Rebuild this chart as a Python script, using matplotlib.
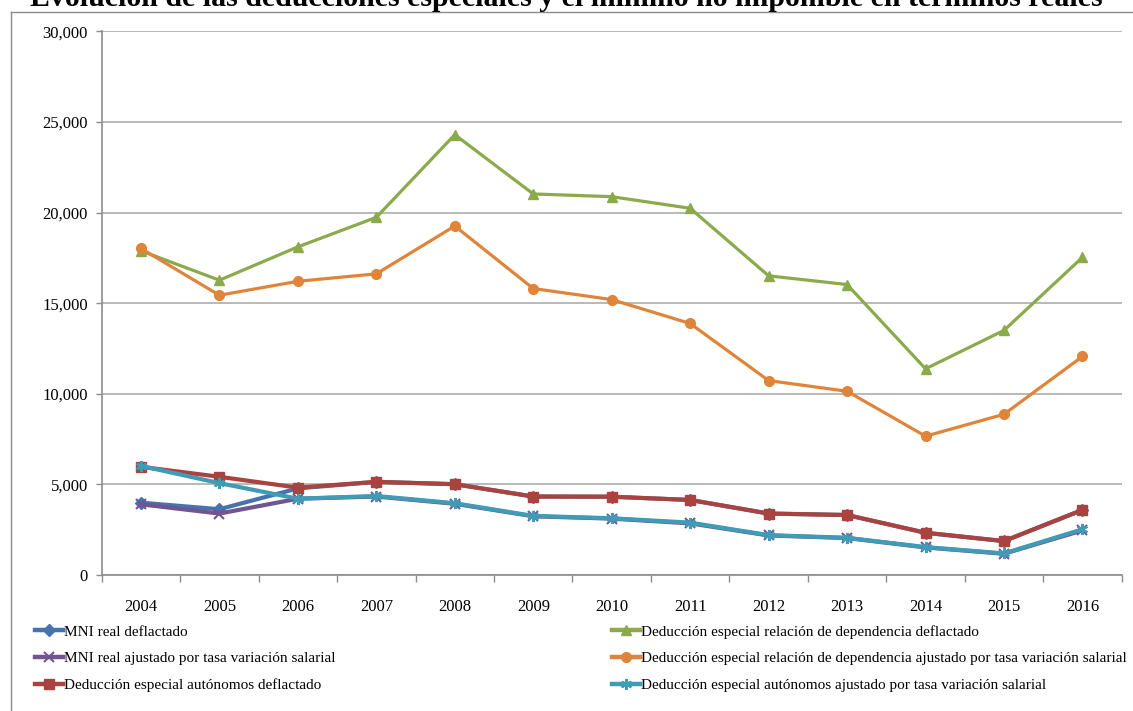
import matplotlib
matplotlib.use("Agg")
import matplotlib.pyplot as plt
from matplotlib.lines import Line2D

years = ["2004", "2005", "2006", "2007", "2008", "2009", "2010",
         "2011", "2012", "2013", "2014", "2015", "2016"]

mni_deflactado = [3990, 3630, 4780, 5140, 5010, 4330, 4320, 4140, 3390, 3310, 2330, 1870, 3590]
ded_dep_deflactado = [17890, 16270, 18110, 19740, 24300, 21030, 20880, 20240, 16510, 16030, 11380, 13500, 17530]
mni_ajustado = [3900, 3390, 4210, 4330, 3930, 3240, 3110, 2850, 2180, 2040, 1520, 1170, 2460]
ded_dep_ajustado = [18020, 15440, 16210, 16620, 19260, 15810, 15200, 13880, 10730, 10140, 7660, 8870, 12060]
ded_aut_deflactado = [5970, 5420, 4820, 5140, 5010, 4330, 4320, 4140, 3390, 3310, 2330, 1870, 3590]
ded_aut_ajustado = [6020, 5070, 4210, 4360, 3960, 3260, 3130, 2890, 2200, 2050, 1540, 1190, 2520]

labels = ["MNI real deflactado",
          "Deducción especial relación de dependencia deflactado",
          "MNI real ajustado por tasa variación salarial",
          "Deducción especial relación de dependencia ajustado por tasa variación salarial",
          "Deducción especial autónomos deflactado",
          "Deducción especial autónomos ajustado por tasa variación salarial"]

title = "Evolución de las deducciones especiales y el mínimo no imponible en términos reales"

plt.rcParams['font.family'] = ['Liberation Serif', 'DejaVu Serif']

fig = plt.figure(figsize=(11.33, 7.11), dpi=100)
ax = fig.add_axes([0.0898, 0.1913, 0.9002, 0.7645])

x = list(range(len(years)))
series = [
    (mni_deflactado, '#4673B0', 'D', 6, 3.0, 1.0),
    (ded_dep_deflactado, '#8AAA4B', '^', 7.5, 2.3, 1.0),
    (mni_ajustado, '#71558F', 'x', 7, 3.0, 1.5),
    (ded_dep_ajustado, '#E0843A', 'o', 7, 2.3, 1.0),
    (ded_aut_deflactado, '#AA433F', 's', 7, 3.0, 1.0),
    (ded_aut_ajustado, '#3F9BB6', (6, 2, 0), 8, 3.0, 1.5),
]
handles = []
for (vals, col, mk, ms, lw, mew), lab in zip(series, labels):
    ax.plot(x, vals, color=col, lw=lw, marker=mk, ms=ms, mew=mew,
            mec=col, mfc=col, solid_joinstyle='round', zorder=3)
    handles.append(Line2D([], [], color=col, lw=3.2, marker=mk, ms=ms,
                          mew=mew, mec=col, mfc=col))

ax.set_xlim(-0.5, len(years) - 0.5)
ax.set_ylim(0, 30000)
ax.set_yticks(range(0, 30001, 5000))
ax.set_yticklabels([f"{v:,}" for v in range(0, 30001, 5000)])
ax.set_xticks(x)
ax.set_xticklabels(years)
ax.set_xticks([i - 0.5 for i in range(len(years) + 1)], minor=True)
ax.tick_params(axis='x', which='major', length=0, pad=17, labelsize=12)
ax.tick_params(axis='x', which='minor', length=5, width=1, color='#8C8C8C', direction='out')
ax.tick_params(axis='y', length=4, width=1, color='#8C8C8C', pad=6, labelsize=12)
ax.grid(axis='y', color='#A6A6A6', lw=1.1)
ax.set_axisbelow(True)
for s in ['top', 'right']:
    ax.spines[s].set_visible(False)
for s in ['left', 'bottom']:
    ax.spines[s].set_color('#8C8C8C')
    ax.spines[s].set_linewidth(1.2)

# chart border
fig.add_artist(Line2D([11 / 1133, 11 / 1133], [0, 1 - 12 / 711], color='#8C8C8C', lw=1,
                      transform=fig.transFigure))
fig.add_artist(Line2D([11 / 1133, 1], [1 - 12 / 711, 1 - 12 / 711], color='#8C8C8C', lw=1,
                      transform=fig.transFigure))

fig.text(0.5, 1 - 6 / 711, title, ha='center', va='baseline',
         fontsize=21.5, fontweight='bold')

leg_kw = dict(frameon=False, fontsize=11.0, handlelength=1.8, handletextpad=0.1,
              labelspacing=0.85, borderpad=0, borderaxespad=0, loc='upper left')
l1 = fig.legend([handles[0], handles[2], handles[4]], [labels[0], labels[2], labels[4]],
                bbox_to_anchor=(35 / 1133, 1 - 625 / 711), **leg_kw)
l2 = fig.legend([handles[1], handles[3], handles[5]], [labels[1], labels[3], labels[5]],
                bbox_to_anchor=(612 / 1133, 1 - 625 / 711), **leg_kw)

fig.savefig("out.png", dpi=100)
